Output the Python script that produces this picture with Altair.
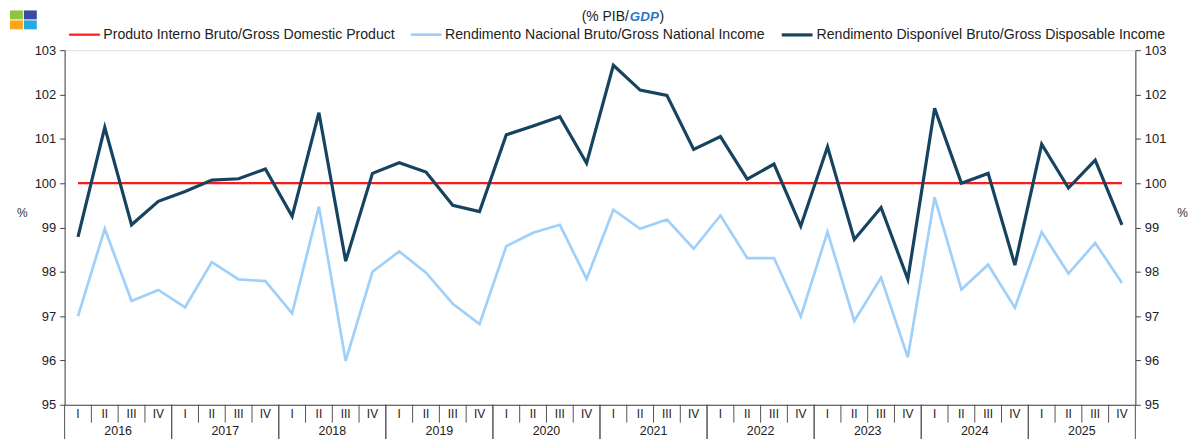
import altair as alt
import pandas as pd

FONT = "Liberation Sans"

years = ["2016", "2017", "2018", "2019", "2020", "2021", "2022", "2023", "2024", "2025"]
quarter_names = ["I", "II", "III", "IV"]

series_names = [
    "Produto Interno Bruto/Gross Domestic Product",
    "Rendimento Nacional Bruto/Gross National Income",
    "Rendimento Disponível Bruto/Gross Disposable Income",
]
series_colors = ["#ff1a1a", "#9fd0fa", "#16435f"]

gdp = [100.0, 100.0, 100.0, 100.0, 100.0, 100.0, 100.0, 100.0, 100.0, 100.0,
       100.0, 100.0, 100.0, 100.0, 100.0, 100.0, 100.0, 100.0, 100.0, 100.0,
       100.0, 100.0, 100.0, 100.0, 100.0, 100.0, 100.0, 100.0, 100.0, 100.0,
       100.0, 100.0, 100.0, 100.0, 100.0, 100.0, 100.0, 100.0, 100.0, 100.0]

gni = [97.00, 98.97, 97.34, 97.59,
       97.20, 98.22, 97.83, 97.79,
       97.06, 99.47, 95.99, 98.00,
       98.46, 97.98, 97.28, 96.82,
       98.58, 98.88, 99.06, 97.84,
       99.40, 98.97, 99.18, 98.52,
       99.27, 98.31, 98.31, 96.99,
       98.90, 96.89, 97.87, 96.07,
       99.68, 97.60, 98.16, 97.19,
       98.90, 97.96, 98.65, 97.75]

gdi = [98.79, 101.26, 99.06, 99.59,
       99.81, 100.07, 100.10, 100.32,
       99.25, 101.59, 98.24, 100.22,
       100.46, 100.25, 99.50, 99.36,
       101.09, 101.29, 101.50, 100.45,
       102.66, 102.10, 101.98, 100.76,
       101.05, 100.09, 100.43, 99.03,
       100.82, 98.73, 99.45, 97.83,
       101.69, 100.00, 100.22, 98.15,
       100.88, 99.89, 100.52, 99.06]

y_ticks = [95, 96, 97, 98, 99, 100, 101, 102, 103]

# ---- tables built from the lists ----
qrows = []
for yi, yr in enumerate(years):
    for qi, q in enumerate(quarter_names):
        qrows.append({"idx": yi * 4 + qi, "year": yr, "q": q})
qdf = pd.DataFrame(qrows)

long_rows = []
for name, vals in zip(series_names, [gdp, gni, gdi]):
    for r, v in zip(qrows, vals):
        long_rows.append({"idx": r["idx"], "series": name, "value": v})
ldf = pd.DataFrame(long_rows)

W, H = 1078, 357

xscale = alt.Scale(domain=[0, 40], nice=False, zero=False)
yscale = alt.Scale(domain=[95, 103], nice=False, zero=False)
xaxis = alt.Axis(labels=False, ticks=False, grid=False, title=None,
                 domainColor="#444444", domainWidth=1)

def yaxis(orient, title_x):
    return alt.Axis(orient=orient, values=y_ticks, grid=False, title="%",
                    titleAngle=0, titleX=title_x, titleY=163, titleAlign="center",
                    titleBaseline="middle",
                    titleFont=FONT, titleFontSize=12, titleFontWeight="normal",
                    titleColor="#333333", labelFont=FONT, labelFontSize=13,
                    labelColor="#222222", labelPadding=4, tickSize=5,
                    tickColor="#444444", domainColor="#444444")

lines = alt.Chart(ldf).transform_calculate(xc="datum.idx + 0.5").mark_line(
    strokeJoin="miter"
).encode(
    x=alt.X("xc:Q", scale=xscale, axis=xaxis),
    y=alt.Y("value:Q", scale=yscale, axis=yaxis("left", -43)),
    color=alt.Color("series:N",
                    scale=alt.Scale(domain=series_names, range=series_colors),
                    legend=alt.Legend(orient="none", legendX=3, legendY=-33,
                                      direction="horizontal", title=None,
                                      symbolType="stroke", symbolSize=961,
                                      symbolStrokeWidth=3, labelFont=FONT,
                                      labelFontSize=14.2, labelColor="#222222",
                                      labelOffset=2, columnPadding=10,
                                      padding=0, labelLimit=0)),
    strokeWidth=alt.StrokeWidth("series:N",
                                scale=alt.Scale(domain=series_names, range=[2.2, 3.2, 3.2]),
                                legend=None),
)

right_axis = alt.Chart(ldf).transform_calculate(xc="datum.idx + 0.5").mark_line(
    opacity=0
).encode(
    x=alt.X("xc:Q", scale=xscale, axis=xaxis),
    y=alt.Y("value:Q", scale=yscale, axis=yaxis("right", 47)),
    detail="series:N",
)

qlabels = alt.Chart(qdf).transform_calculate(xc="datum.idx + 0.5").mark_text(
    font=FONT, fontSize=12, color="#222222", baseline="middle"
).encode(
    x=alt.X("xc:Q", scale=xscale, axis=xaxis),
    y=alt.value(366),
    text="q:N",
)

ylabels = alt.Chart(qdf).transform_filter("datum.q == 'III'").mark_text(
    font=FONT, fontSize=12.5, color="#222222", baseline="top"
).encode(
    x=alt.X("idx:Q", scale=xscale, axis=xaxis),
    y=alt.value(377),
    text="year:N",
)

qsep = alt.Chart(qdf).transform_filter("datum.q != 'I'").mark_rule(
    color="#555555", strokeWidth=1
).encode(
    x=alt.X("idx:Q", scale=xscale, axis=xaxis),
    y=alt.value(H),
    y2=alt.value(H + 18),
)

ysep = alt.Chart(qdf).transform_filter("datum.q == 'I' || datum.q == 'IV'").transform_calculate(
    bx="datum.q == 'I' ? datum.idx : datum.idx + 1"
).mark_rule(color="#555555", strokeWidth=1).encode(
    x=alt.X("bx:Q", scale=xscale, axis=xaxis),
    y=alt.value(H),
    y2=alt.value(H + 40),
)

one = pd.DataFrame({"k": [0]})
title1 = alt.Chart(one).mark_text(text="(% PIB/", font=FONT, fontSize=14,
                                  color="#222222", align="right", baseline="middle").encode(
    x=alt.value(568), y=alt.value(-33))
title2 = alt.Chart(one).mark_text(text="GDP", font=FONT, fontSize=13.5, fontStyle="italic",
                                  fontWeight="bold", color="#2a78c6", align="left",
                                  baseline="middle").encode(
    x=alt.value(569), y=alt.value(-33))
title3 = alt.Chart(one).mark_text(text=")", font=FONT, fontSize=14,
                                  color="#222222", align="left", baseline="middle").encode(
    x=alt.value(599), y=alt.value(-33))

logo_colors = ["#8cc63e", "#3a4b9f", "#f9a61a", "#27aae1"]
logo = []
for i, c in enumerate(logo_colors):
    cx = -55 if i % 2 == 0 else -41
    cy = -40 if i < 2 else -30
    logo.append(alt.Chart(one).mark_rect(color=c).encode(
        x=alt.value(cx), x2=alt.value(cx + 13), y=alt.value(cy), y2=alt.value(cy + 9)))

chart = alt.layer(
    qsep, ysep, lines, right_axis, qlabels, ylabels, title1, title2, title3, *logo
).resolve_axis(y="independent").properties(
    width=W, height=H,
    autosize=alt.AutoSizeParams(type="none"),
    padding={"left": 57, "top": 41, "right": 55, "bottom": 33},
).configure_view(stroke=None).configure(background="white")

chart.save("out.html", embed_options={"renderer": "svg", "actions": False})
